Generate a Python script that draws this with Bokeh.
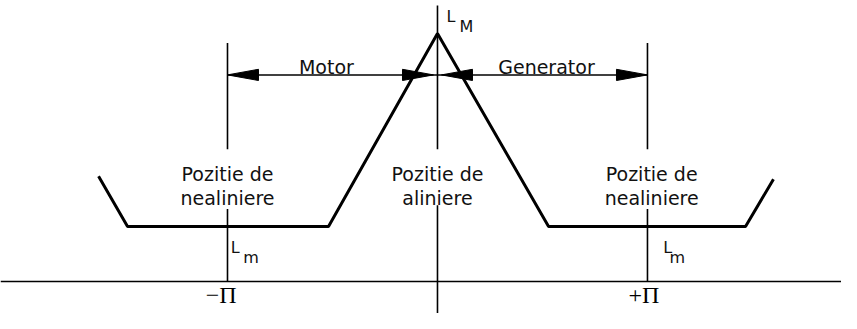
from bokeh.plotting import figure
from bokeh.models import Range1d, Span
from bokeh.core.properties import value
from bokeh.embed import file_html
from bokeh.resources import INLINE

# ---- data (angle in units of pi, inductance in arbitrary units) ----
curve_angle = [-1.614, -1.476, -0.519, 0.0, 0.529, 1.467, 1.600]
curve_L = [109, 57, 57, 257, 57, 57, 106]

# vertical marker lines (angle, bottom, top) - split around labels
vline_angle = [-1, -1, 0, 0, 1, 1]
vline_bottom = [0, 137, -36, 137, 0, 137]
vline_top = [75, 247, 79, 286, 75, 247]

# dimension arrows Motor / Generator
arrow_level = 214
arrow_start = [-1.0, 1.0]
arrow_tips = [-1.0, -0.019, 0.019, 1.0]
arrow_dirs = [-1, 1, -1, 1]
arrow_texts = ["Motor", "Generator"]
arrow_text_x = [-0.529, 0.519]
arrow_text_y = [222, 222]

# position labels
pos_x = [-1.0, 0.0, 1.02]
pos_line1 = ["Pozitie de", "Pozitie de", "Pozitie de"]
pos_line2 = ["nealiniere", "aliniere", "nealiniere"]
pos_y1 = [111, 111, 111]
pos_y2 = [87, 87, 86]

# inductance labels
L_main_x = [0.043, -0.985, 1.075]
L_main_y = [274, 35, 35]
L_sub_x = [0.105, -0.925, 1.105]
L_sub_y = [264, 25, 25]
L_sub_text = ["M", "m", "m"]

# pi tick labels (right edge of label)
pi_x = [-0.957, 1.057]
pi_text = ["\u2212\u03a0", "+\u03a0"]
pi_y = [-14.5, -14.5]

p = figure(width=841, height=313, output_backend="svg", toolbar_location=None,
           x_range=Range1d(-2.081, 1.924), y_range=Range1d(-33.15, 291.07),
           x_axis_type=None, y_axis_type=None, min_border=0)
p.grid.visible = False
p.outline_line_color = None
p.background_fill_color = "white"
p.border_fill_color = "white"

# horizontal axis
p.add_layout(Span(location=0, dimension="width", line_color="black", line_width=1.6))

# vertical lines
p.segment(x0=vline_angle, y0=vline_bottom, x1=vline_angle, y1=vline_top,
          line_color="black", line_width=1.6)

# inductance curve
p.line(curve_angle, curve_L, line_color="black", line_width=3)

# arrow line
p.segment(x0=[arrow_start[0]], y0=[arrow_level], x1=[arrow_start[1]], y1=[arrow_level],
          line_color="black", line_width=1.5)

head_len = 31 / 210.0
head_half = 5.8
xs, ys = [], []
for t, d in zip(arrow_tips, arrow_dirs):
    xs.append([t, t - d * head_len, t - d * head_len])
    ys.append([arrow_level, arrow_level + head_half, arrow_level - head_half])
p.patches(xs, ys, fill_color="black", line_color="black", line_width=1)

font = value("DejaVu Sans")
p.text(x=arrow_text_x, y=arrow_text_y, text=arrow_texts, text_font=font,
       text_font_size="19px", text_align="center", text_baseline="alphabetic",
       text_color="#111111")

p.text(x=pos_x, y=pos_y1, text=pos_line1, text_font=font, text_font_size="19px",
       text_align="center", text_baseline="alphabetic", text_color="#111111")
p.text(x=pos_x, y=pos_y2, text=pos_line2, text_font=font, text_font_size="19px",
       text_align="center", text_baseline="alphabetic", text_color="#111111")

p.text(x=L_main_x, y=L_main_y, text=["L", "L", "L"], text_font=font,
       text_font_size="16px", text_align="left", text_baseline="alphabetic",
       text_color="#111111")
p.text(x=L_sub_x, y=L_sub_y, text=L_sub_text, text_font=font,
       text_font_size="16px", text_align="left", text_baseline="alphabetic",
       text_color="#111111")

p.text(x=pi_x, y=pi_y, text=pi_text, text_font=value("Liberation Serif"),
       text_font_size="24px", text_align="right", text_baseline="middle",
       text_color="black")

open("out.html", "w").write(file_html(p, INLINE))
